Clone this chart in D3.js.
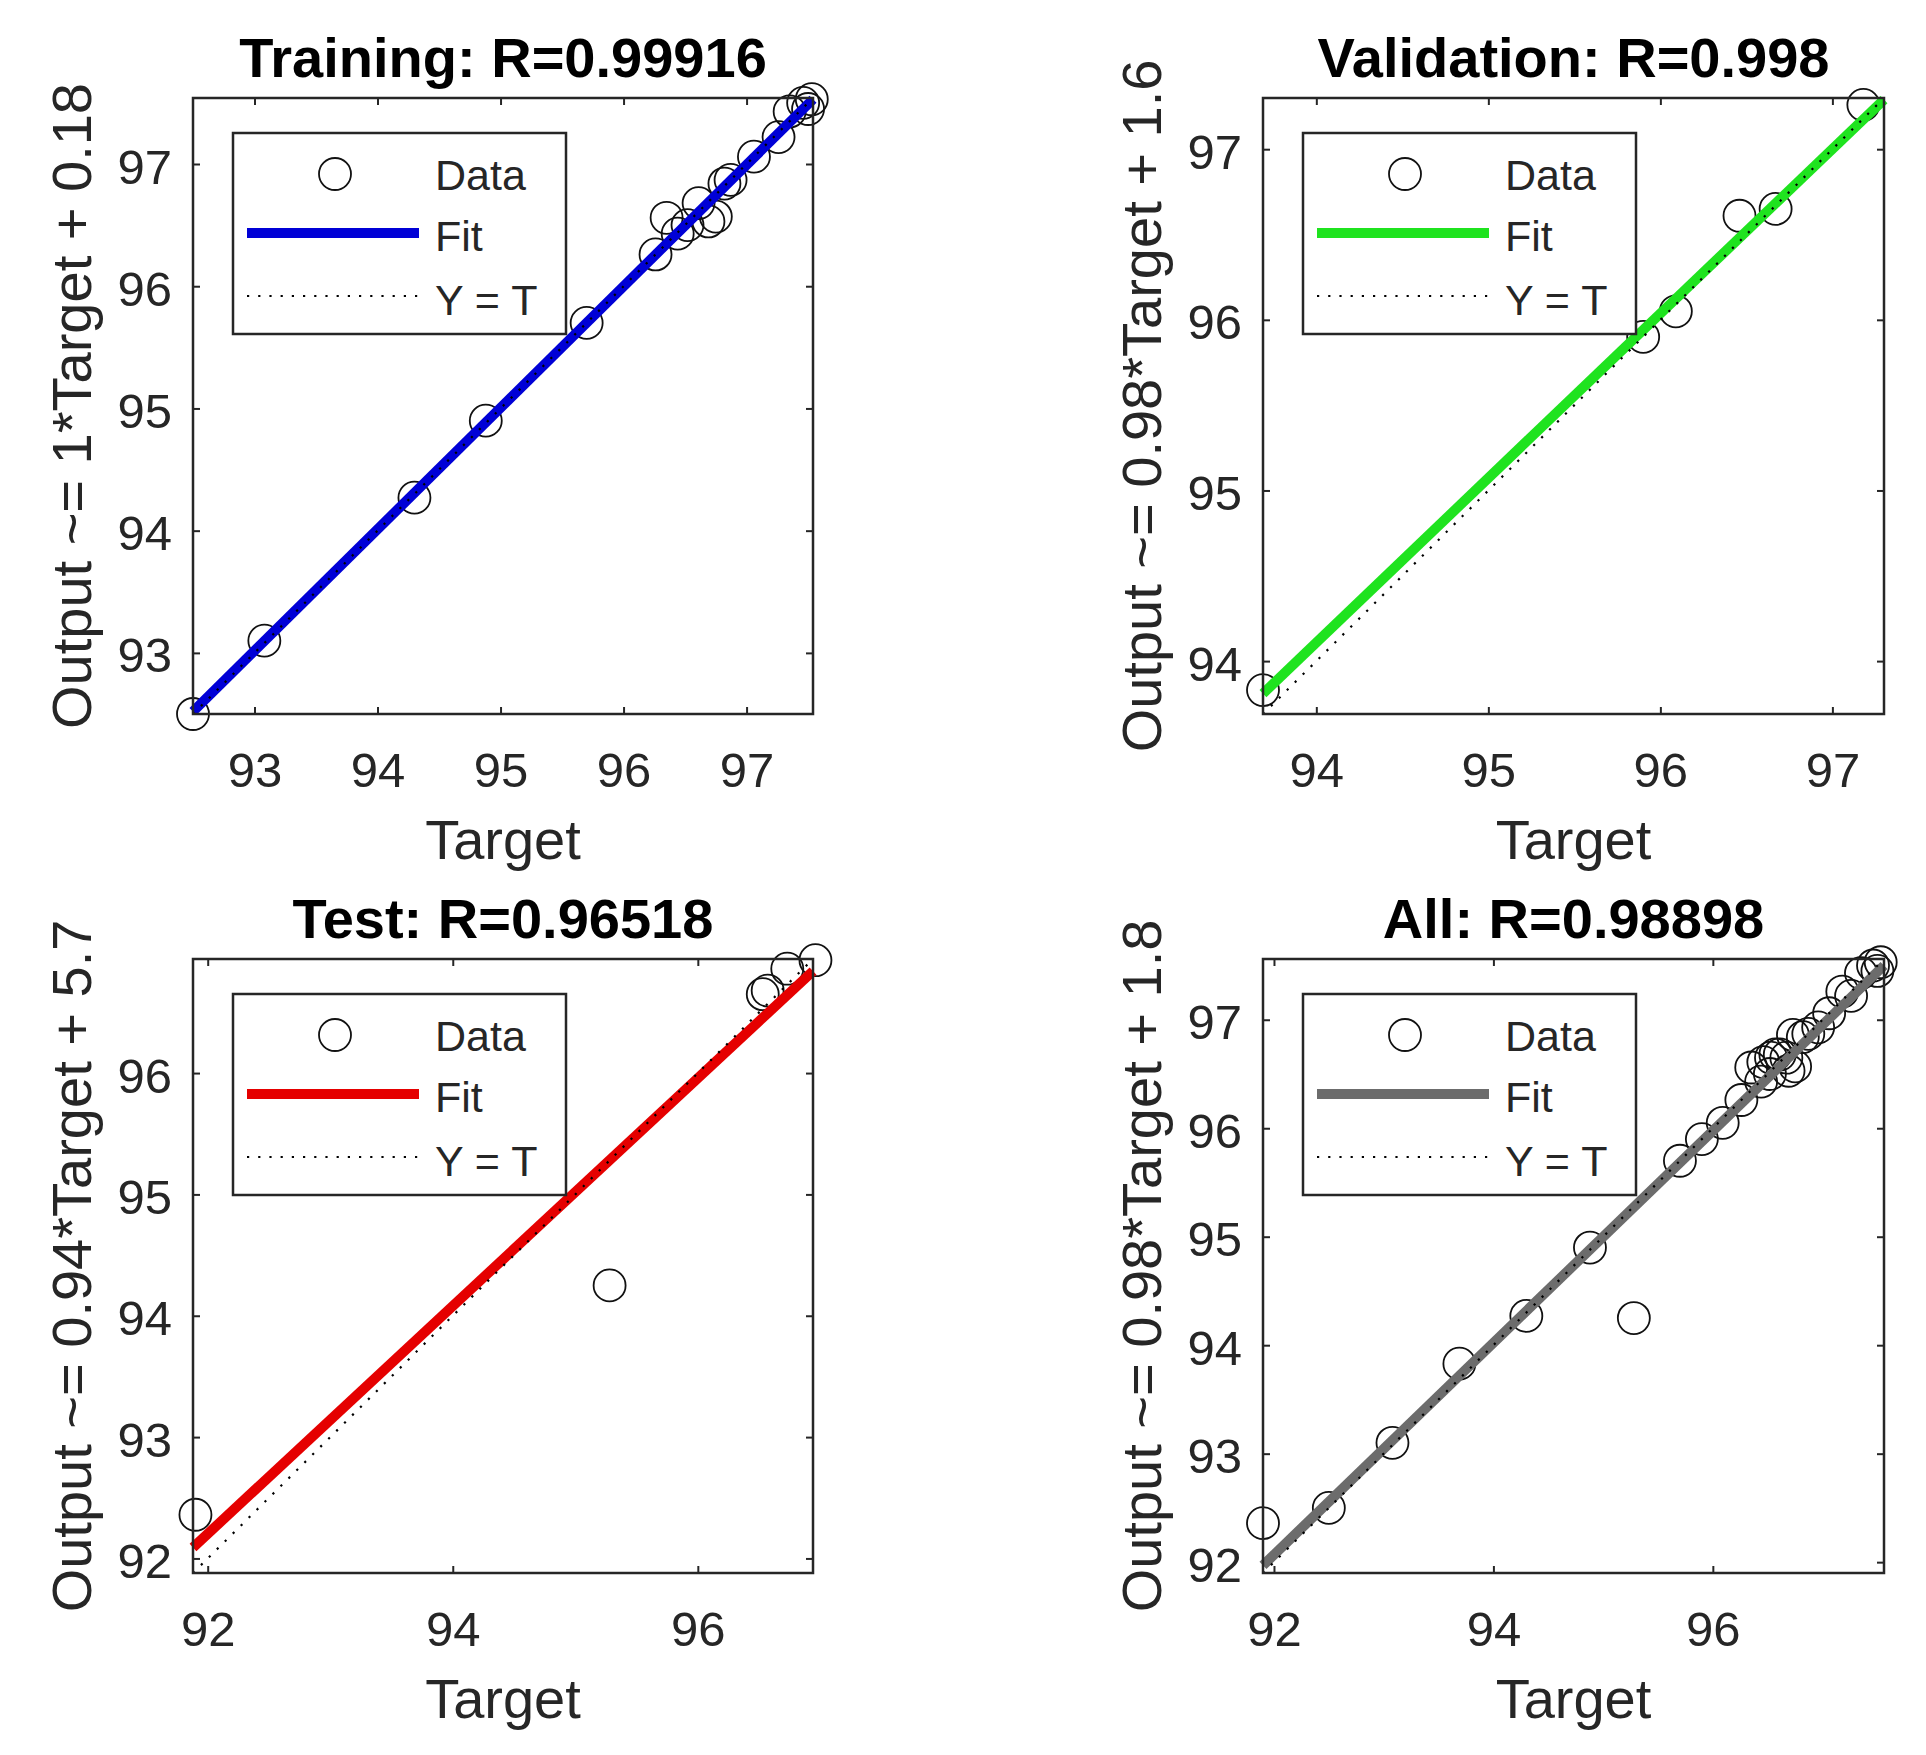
<!DOCTYPE html>
<html><head><meta charset="utf-8">
<script src="https://cdn.jsdelivr.net/npm/d3@7"></script>
<style>
body{margin:0;background:#fff}
svg text{font-family:"Liberation Sans",Arial,Helvetica,sans-serif}
</style>
</head><body>
<svg id="c" width="1926" height="1755"></svg>
<script>
// ---- data ----
const trainTarget = [92.5, 93.08, 94.3, 94.88, 95.7, 96.26, 96.35, 96.44, 96.52, 96.61, 96.69, 96.75, 96.82, 96.87, 97.06, 97.26, 97.35, 97.46, 97.53, 97.5];
const trainOutput = [92.5, 93.1, 94.27, 94.9, 95.7, 96.26, 96.56, 96.43, 96.5, 96.68, 96.53, 96.57, 96.84, 96.87, 97.06, 97.22, 97.43, 97.5, 97.53, 97.45];
const valTarget = [93.69, 95.9, 96.09, 96.46, 96.67, 97.18];
const valOutput = [93.83, 95.9, 96.05, 96.61, 96.65, 97.26];
const testTarget = [91.9, 95.28, 96.53, 96.57, 96.73, 96.96];
const testOutput = [92.36, 94.25, 96.65, 96.68, 96.86, 96.93];
const allTarget = trainTarget.concat(valTarget, testTarget);
const allOutput = trainOutput.concat(valOutput, testOutput);

const titles = ["Training: R=0.99916", "Validation: R=0.998", "Test: R=0.96518", "All: R=0.98898"];
const yLabels = ["Output ~= 1*Target + 0.18", "Output ~= 0.98*Target + 1.6", "Output ~= 0.94*Target + 5.7", "Output ~= 0.98*Target + 1.8"];
const xLabel = "Target";
const legendLabels = ["Data", "Fit", "Y = T"];
const axisLimits = [[92.5, 97.54], [93.69, 97.3], [91.88, 96.94], [91.9, 97.56]];
const xTickValues = [[93, 94, 95, 96, 97], [94, 95, 96, 97], [92, 94, 96], [92, 94, 96]];
const yTickValues = [[93, 94, 95, 96, 97], [94, 95, 96, 97], [92, 93, 94, 95, 96], [92, 93, 94, 95, 96, 97]];
// fit line end points [target, output]
const fitStart = [[92.5, 92.52], [93.69, 93.81], [91.88, 92.09], [91.9, 91.97]];
const fitEnd = [[97.54, 97.53], [97.3, 97.29], [96.94, 96.84], [97.56, 97.5]];
const fitColors = ["#0000d6", "#1fe31f", "#e50000", "#6c6c6c"];

const panelTargets = [trainTarget, valTarget, testTarget, allTarget];
const panelOutputs = [trainOutput, valOutput, testOutput, allOutput];

// ---- layout ----
const boxes = [
  {x: 193, y: 98, w: 620, h: 616},
  {x: 1263, y: 98, w: 621, h: 616},
  {x: 193, y: 959, w: 620, h: 614},
  {x: 1263, y: 959, w: 621, h: 614}
];
const axisColor = "#262626";
const svg = d3.select("#c");

boxes.forEach((b, i) => {
  const x = d3.scaleLinear().domain(axisLimits[i]).range([0, b.w]);
  const y = d3.scaleLinear().domain(axisLimits[i]).range([b.h, 0]);
  const g = svg.append("g").attr("transform", `translate(${b.x},${b.y})`);

  // axes (ticks inside, on all four sides)
  const styleAxis = sel => {
    sel.select(".domain").remove();
    sel.selectAll(".tick line").attr("stroke", axisColor).attr("stroke-width", 2);
    sel.selectAll(".tick text").attr("fill", axisColor).attr("font-size", 49);
  };
  g.append("g").attr("transform", `translate(0,${b.h})`)
    .call(d3.axisBottom(x).tickValues(xTickValues[i]).tickSize(-7).tickFormat(d3.format("d")))
    .call(styleAxis)
    .call(s => s.selectAll(".tick text").attr("y", 73).attr("dy", null));
  g.append("g")
    .call(d3.axisTop(x).tickValues(xTickValues[i]).tickSize(-7).tickFormat(""))
    .call(styleAxis);
  g.append("g")
    .call(d3.axisLeft(y).tickValues(yTickValues[i]).tickSize(-7).tickFormat(d3.format("d")))
    .call(styleAxis)
    .call(s => s.selectAll(".tick text").attr("x", -21).attr("dy", 19));
  g.append("g").attr("transform", `translate(${b.w},0)`)
    .call(d3.axisRight(y).tickValues(yTickValues[i]).tickSize(-7).tickFormat(""))
    .call(styleAxis);

  // data circles
  const pts = panelTargets[i].map((t, k) => [t, panelOutputs[i][k]]);
  g.append("g").selectAll("circle").data(pts).join("circle")
    .attr("cx", d => x(d[0])).attr("cy", d => y(d[1])).attr("r", 16)
    .attr("fill", "none").attr("stroke", "#111").attr("stroke-width", 1.8);

  // fit line
  g.append("line")
    .attr("x1", x(fitStart[i][0])).attr("y1", y(fitStart[i][1]))
    .attr("x2", x(fitEnd[i][0])).attr("y2", y(fitEnd[i][1]))
    .attr("stroke", fitColors[i]).attr("stroke-width", 10);

  // Y = T line
  const lim = axisLimits[i];
  g.append("line")
    .attr("x1", x(lim[0])).attr("y1", y(lim[0]))
    .attr("x2", x(lim[1])).attr("y2", y(lim[1]))
    .attr("stroke", "#000").attr("stroke-width", 2.2).attr("stroke-dasharray", "2.2,9");

  // box
  g.append("rect").attr("width", b.w).attr("height", b.h)
    .attr("fill", "none").attr("stroke", axisColor).attr("stroke-width", 2.5);

  // title
  g.append("text").attr("x", b.w / 2).attr("y", -21)
    .attr("text-anchor", "middle").attr("font-weight", "bold").attr("font-size", 56)
    .attr("fill", "#000").text(titles[i]);

  // x label
  g.append("text").attr("x", b.w / 2).attr("y", b.h + 145)
    .attr("text-anchor", "middle").attr("font-size", 56).attr("fill", axisColor).text(xLabel);

  // y label
  g.append("text").attr("transform", `translate(-102,${b.h / 2}) rotate(-90)`)
    .attr("text-anchor", "middle").attr("font-size", 56).attr("fill", axisColor).text(yLabels[i]);

  // legend
  const L = g.append("g").attr("transform", `translate(40,35)`);
  L.append("rect").attr("width", 333).attr("height", 201)
    .attr("fill", "#fff").attr("stroke", axisColor).attr("stroke-width", 2.5);
  L.append("circle").attr("cx", 102).attr("cy", 41).attr("r", 16)
    .attr("fill", "none").attr("stroke", "#111").attr("stroke-width", 1.8);
  L.append("line").attr("x1", 14).attr("x2", 186).attr("y1", 100).attr("y2", 100)
    .attr("stroke", fitColors[i]).attr("stroke-width", 10);
  L.append("line").attr("x1", 14).attr("x2", 188).attr("y1", 163).attr("y2", 163)
    .attr("stroke", "#000").attr("stroke-width", 2.2).attr("stroke-dasharray", "2.2,9");
  const baselines = [57, 118, 182];
  legendLabels.forEach((t, k) => {
    L.append("text").attr("x", 202).attr("y", baselines[k])
      .attr("font-size", 43).attr("fill", axisColor).text(t);
  });
});
</script>
</body></html>
